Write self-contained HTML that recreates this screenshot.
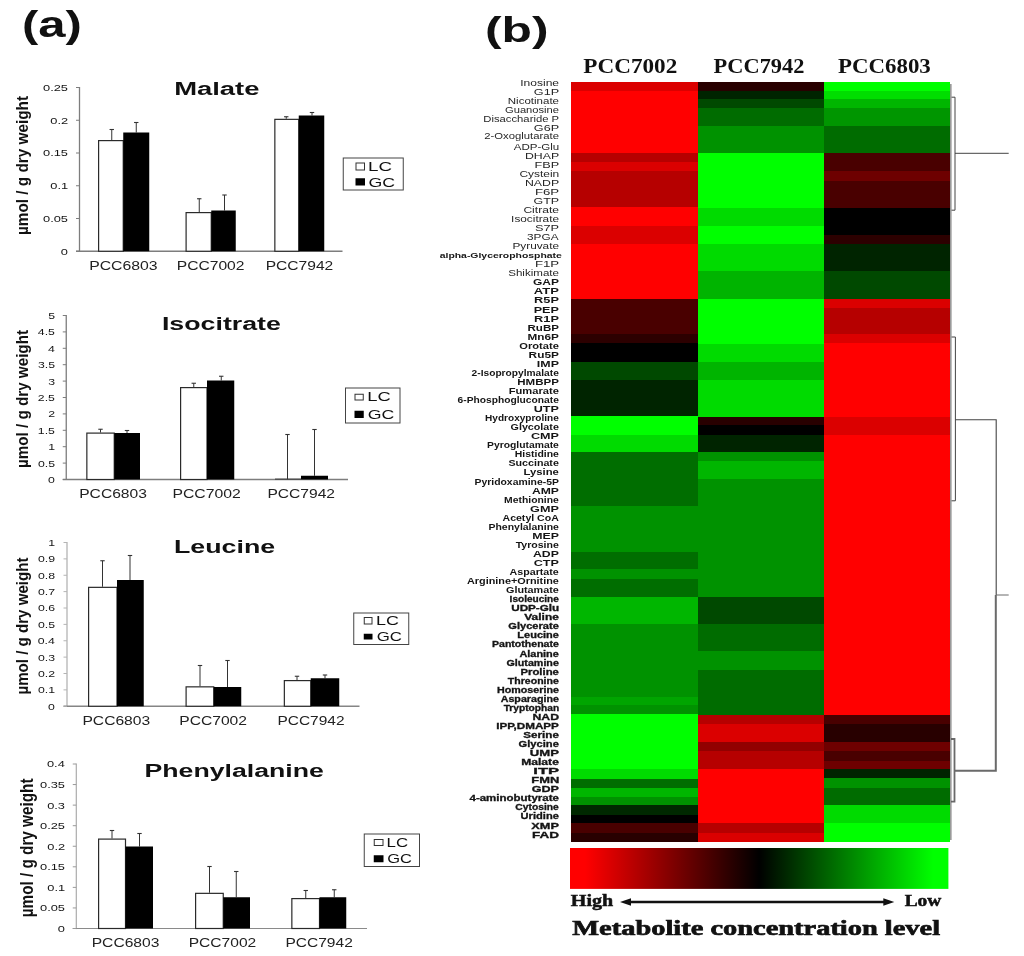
<!DOCTYPE html>
<html lang="en"><head><meta charset="utf-8"><title>Figure</title>
<style>html,body{margin:0;padding:0;background:#fff}svg{display:block;filter:blur(0.35px)}text{white-space:pre}</style></head><body>
<svg width="1024" height="956" viewBox="0 0 1024 956">
<rect x="0" y="0" width="1024" height="956" fill="#fff"/>
<text x="22.05" y="37.30" font-family="'Liberation Sans', Arial, sans-serif" font-size="37" font-weight="bold" fill="#111" textLength="59.88" lengthAdjust="spacingAndGlyphs">(a)</text>
<text x="485.01" y="41.60" font-family="'Liberation Sans', Arial, sans-serif" font-size="35" font-weight="bold" fill="#111" textLength="63.65" lengthAdjust="spacingAndGlyphs">(b)</text>
<line x1="79.50" y1="87.00" x2="79.50" y2="251.85" stroke="#7d7d7d" stroke-width="1.3"/>
<line x1="76.00" y1="251.25" x2="342.50" y2="251.25" stroke="#7d7d7d" stroke-width="1.3"/>
<line x1="76.00" y1="251.25" x2="79.50" y2="251.25" stroke="#7d7d7d" stroke-width="1"/>
<text x="60.85" y="254.65" font-family="'Liberation Sans', Arial, sans-serif" font-size="9.4" font-weight="normal" fill="#151515" textLength="7.15" lengthAdjust="spacingAndGlyphs">0</text>
<line x1="76.00" y1="218.50" x2="79.50" y2="218.50" stroke="#7d7d7d" stroke-width="1"/>
<text x="43.02" y="221.90" font-family="'Liberation Sans', Arial, sans-serif" font-size="9.4" font-weight="normal" fill="#151515" textLength="25.01" lengthAdjust="spacingAndGlyphs">0.05</text>
<line x1="76.00" y1="185.75" x2="79.50" y2="185.75" stroke="#7d7d7d" stroke-width="1"/>
<text x="50.25" y="189.15" font-family="'Liberation Sans', Arial, sans-serif" font-size="9.4" font-weight="normal" fill="#151515" textLength="17.86" lengthAdjust="spacingAndGlyphs">0.1</text>
<line x1="76.00" y1="153.00" x2="79.50" y2="153.00" stroke="#7d7d7d" stroke-width="1"/>
<text x="43.02" y="156.40" font-family="'Liberation Sans', Arial, sans-serif" font-size="9.4" font-weight="normal" fill="#151515" textLength="25.01" lengthAdjust="spacingAndGlyphs">0.15</text>
<line x1="76.00" y1="120.25" x2="79.50" y2="120.25" stroke="#7d7d7d" stroke-width="1"/>
<text x="50.28" y="123.65" font-family="'Liberation Sans', Arial, sans-serif" font-size="9.4" font-weight="normal" fill="#151515" textLength="17.86" lengthAdjust="spacingAndGlyphs">0.2</text>
<line x1="76.00" y1="87.50" x2="79.50" y2="87.50" stroke="#7d7d7d" stroke-width="1"/>
<text x="43.02" y="90.90" font-family="'Liberation Sans', Arial, sans-serif" font-size="9.4" font-weight="normal" fill="#151515" textLength="25.01" lengthAdjust="spacingAndGlyphs">0.25</text>
<text x="174.15" y="95.00" font-family="'Liberation Sans', Arial, sans-serif" font-size="19.2" font-weight="bold" fill="#111" textLength="85.31" lengthAdjust="spacingAndGlyphs">Malate</text>
<text transform="translate(28.00,235.00) rotate(-90)" x="0" y="0" font-family="'Liberation Sans', Arial, sans-serif" font-size="17" font-weight="bold" fill="#111" textLength="139.00" lengthAdjust="spacingAndGlyphs">µmol / g dry weight</text>
<line x1="111.75" y1="140.00" x2="111.75" y2="129.50" stroke="#333" stroke-width="1"/>
<line x1="109.55" y1="129.50" x2="113.95" y2="129.50" stroke="#333" stroke-width="1.1"/>
<line x1="136.25" y1="132.50" x2="136.25" y2="122.50" stroke="#333" stroke-width="1"/>
<line x1="134.05" y1="122.50" x2="138.45" y2="122.50" stroke="#333" stroke-width="1.1"/>
<rect x="98.60" y="140.60" width="24.65" height="110.65" fill="#fff" stroke="#2a2a2a" stroke-width="1.2"/>
<rect x="123.25" y="132.50" width="26.00" height="118.75" fill="#000"/>
<line x1="199.25" y1="212.00" x2="199.25" y2="198.75" stroke="#333" stroke-width="1"/>
<line x1="197.05" y1="198.75" x2="201.45" y2="198.75" stroke="#333" stroke-width="1.1"/>
<line x1="224.50" y1="210.50" x2="224.50" y2="195.00" stroke="#333" stroke-width="1"/>
<line x1="222.30" y1="195.00" x2="226.70" y2="195.00" stroke="#333" stroke-width="1.1"/>
<rect x="186.10" y="212.60" width="25.15" height="38.65" fill="#fff" stroke="#2a2a2a" stroke-width="1.2"/>
<rect x="211.25" y="210.50" width="24.50" height="40.75" fill="#000"/>
<line x1="286.25" y1="118.75" x2="286.25" y2="116.75" stroke="#333" stroke-width="1"/>
<line x1="284.05" y1="116.75" x2="288.45" y2="116.75" stroke="#333" stroke-width="1.1"/>
<line x1="312.00" y1="115.50" x2="312.00" y2="112.50" stroke="#333" stroke-width="1"/>
<line x1="309.80" y1="112.50" x2="314.20" y2="112.50" stroke="#333" stroke-width="1.1"/>
<rect x="274.85" y="119.35" width="23.90" height="131.90" fill="#fff" stroke="#2a2a2a" stroke-width="1.2"/>
<rect x="298.75" y="115.50" width="25.50" height="135.75" fill="#000"/>
<text x="89.20" y="270.00" font-family="'Liberation Sans', Arial, sans-serif" font-size="12.2" font-weight="normal" fill="#222" textLength="68.49" lengthAdjust="spacingAndGlyphs">PCC6803</text>
<text x="176.71" y="270.00" font-family="'Liberation Sans', Arial, sans-serif" font-size="12.2" font-weight="normal" fill="#222" textLength="67.84" lengthAdjust="spacingAndGlyphs">PCC7002</text>
<text x="265.71" y="270.00" font-family="'Liberation Sans', Arial, sans-serif" font-size="12.2" font-weight="normal" fill="#222" textLength="67.58" lengthAdjust="spacingAndGlyphs">PCC7942</text>
<rect x="343.25" y="158.00" width="60.00" height="32.00" fill="#fff" stroke="#444" stroke-width="1"/>
<rect x="356.00" y="163.00" width="8.50" height="7.00" fill="#fff" stroke="#333" stroke-width="1"/>
<rect x="355.50" y="178.25" width="9.50" height="7.25" fill="#000"/>
<text x="367.95" y="170.50" font-family="'Liberation Sans', Arial, sans-serif" font-size="13" font-weight="normal" fill="#111" textLength="24.02" lengthAdjust="spacingAndGlyphs">LC</text>
<text x="368.62" y="186.60" font-family="'Liberation Sans', Arial, sans-serif" font-size="13" font-weight="normal" fill="#111" textLength="26.55" lengthAdjust="spacingAndGlyphs">GC</text>
<line x1="66.25" y1="315.00" x2="66.25" y2="480.10" stroke="#7d7d7d" stroke-width="1.3"/>
<line x1="62.75" y1="479.50" x2="348.00" y2="479.50" stroke="#7d7d7d" stroke-width="1.3"/>
<line x1="62.75" y1="479.50" x2="66.25" y2="479.50" stroke="#7d7d7d" stroke-width="1"/>
<text x="48.13" y="482.90" font-family="'Liberation Sans', Arial, sans-serif" font-size="9.4" font-weight="normal" fill="#151515" textLength="6.84" lengthAdjust="spacingAndGlyphs">0</text>
<line x1="62.75" y1="463.10" x2="66.25" y2="463.10" stroke="#7d7d7d" stroke-width="1"/>
<text x="37.90" y="466.50" font-family="'Liberation Sans', Arial, sans-serif" font-size="9.4" font-weight="normal" fill="#151515" textLength="17.10" lengthAdjust="spacingAndGlyphs">0.5</text>
<line x1="62.75" y1="446.70" x2="66.25" y2="446.70" stroke="#7d7d7d" stroke-width="1"/>
<text x="48.26" y="450.10" font-family="'Liberation Sans', Arial, sans-serif" font-size="9.4" font-weight="normal" fill="#151515" textLength="6.84" lengthAdjust="spacingAndGlyphs">1</text>
<line x1="62.75" y1="430.30" x2="66.25" y2="430.30" stroke="#7d7d7d" stroke-width="1"/>
<text x="37.89" y="433.70" font-family="'Liberation Sans', Arial, sans-serif" font-size="9.4" font-weight="normal" fill="#151515" textLength="17.10" lengthAdjust="spacingAndGlyphs">1.5</text>
<line x1="62.75" y1="413.90" x2="66.25" y2="413.90" stroke="#7d7d7d" stroke-width="1"/>
<text x="48.29" y="417.30" font-family="'Liberation Sans', Arial, sans-serif" font-size="9.4" font-weight="normal" fill="#151515" textLength="6.84" lengthAdjust="spacingAndGlyphs">2</text>
<line x1="62.75" y1="397.50" x2="66.25" y2="397.50" stroke="#7d7d7d" stroke-width="1"/>
<text x="37.89" y="400.90" font-family="'Liberation Sans', Arial, sans-serif" font-size="9.4" font-weight="normal" fill="#151515" textLength="17.10" lengthAdjust="spacingAndGlyphs">2.5</text>
<line x1="62.75" y1="381.10" x2="66.25" y2="381.10" stroke="#7d7d7d" stroke-width="1"/>
<text x="48.20" y="384.50" font-family="'Liberation Sans', Arial, sans-serif" font-size="9.4" font-weight="normal" fill="#151515" textLength="6.84" lengthAdjust="spacingAndGlyphs">3</text>
<line x1="62.75" y1="364.70" x2="66.25" y2="364.70" stroke="#7d7d7d" stroke-width="1"/>
<text x="37.90" y="368.10" font-family="'Liberation Sans', Arial, sans-serif" font-size="9.4" font-weight="normal" fill="#151515" textLength="17.10" lengthAdjust="spacingAndGlyphs">3.5</text>
<line x1="62.75" y1="348.30" x2="66.25" y2="348.30" stroke="#7d7d7d" stroke-width="1"/>
<text x="48.01" y="351.70" font-family="'Liberation Sans', Arial, sans-serif" font-size="9.4" font-weight="normal" fill="#151515" textLength="6.84" lengthAdjust="spacingAndGlyphs">4</text>
<line x1="62.75" y1="331.90" x2="66.25" y2="331.90" stroke="#7d7d7d" stroke-width="1"/>
<text x="37.89" y="335.30" font-family="'Liberation Sans', Arial, sans-serif" font-size="9.4" font-weight="normal" fill="#151515" textLength="17.10" lengthAdjust="spacingAndGlyphs">4.5</text>
<line x1="62.75" y1="315.50" x2="66.25" y2="315.50" stroke="#7d7d7d" stroke-width="1"/>
<text x="48.17" y="318.90" font-family="'Liberation Sans', Arial, sans-serif" font-size="9.4" font-weight="normal" fill="#151515" textLength="6.84" lengthAdjust="spacingAndGlyphs">5</text>
<text x="161.94" y="330.00" font-family="'Liberation Sans', Arial, sans-serif" font-size="19.2" font-weight="bold" fill="#111" textLength="118.96" lengthAdjust="spacingAndGlyphs">Isocitrate</text>
<text transform="translate(28.00,468.00) rotate(-90)" x="0" y="0" font-family="'Liberation Sans', Arial, sans-serif" font-size="17" font-weight="bold" fill="#111" textLength="138.00" lengthAdjust="spacingAndGlyphs">µmol / g dry weight</text>
<line x1="100.50" y1="432.50" x2="100.50" y2="429.25" stroke="#333" stroke-width="1"/>
<line x1="98.30" y1="429.25" x2="102.70" y2="429.25" stroke="#333" stroke-width="1.1"/>
<line x1="127.00" y1="433.00" x2="127.00" y2="430.50" stroke="#333" stroke-width="1"/>
<line x1="124.80" y1="430.50" x2="129.20" y2="430.50" stroke="#333" stroke-width="1.1"/>
<rect x="86.85" y="433.10" width="27.40" height="46.40" fill="#fff" stroke="#2a2a2a" stroke-width="1.2"/>
<rect x="114.25" y="433.00" width="25.75" height="46.50" fill="#000"/>
<line x1="193.75" y1="387.00" x2="193.75" y2="383.25" stroke="#333" stroke-width="1"/>
<line x1="191.55" y1="383.25" x2="195.95" y2="383.25" stroke="#333" stroke-width="1.1"/>
<line x1="221.25" y1="380.50" x2="221.25" y2="376.25" stroke="#333" stroke-width="1"/>
<line x1="219.05" y1="376.25" x2="223.45" y2="376.25" stroke="#333" stroke-width="1.1"/>
<rect x="180.60" y="387.60" width="26.40" height="91.90" fill="#fff" stroke="#2a2a2a" stroke-width="1.2"/>
<rect x="207.00" y="380.50" width="27.25" height="99.00" fill="#000"/>
<line x1="287.50" y1="479.30" x2="287.50" y2="434.50" stroke="#333" stroke-width="1"/>
<line x1="285.30" y1="434.50" x2="289.70" y2="434.50" stroke="#333" stroke-width="1.1"/>
<line x1="314.50" y1="475.75" x2="314.50" y2="429.50" stroke="#333" stroke-width="1"/>
<line x1="312.30" y1="429.50" x2="316.70" y2="429.50" stroke="#333" stroke-width="1.1"/>
<line x1="275.00" y1="479.10" x2="301.00" y2="479.10" stroke="#333" stroke-width="1"/>
<rect x="301.00" y="475.75" width="27.00" height="3.75" fill="#000"/>
<text x="79.21" y="497.70" font-family="'Liberation Sans', Arial, sans-serif" font-size="12.2" font-weight="normal" fill="#222" textLength="67.72" lengthAdjust="spacingAndGlyphs">PCC6803</text>
<text x="172.45" y="497.70" font-family="'Liberation Sans', Arial, sans-serif" font-size="12.2" font-weight="normal" fill="#222" textLength="68.36" lengthAdjust="spacingAndGlyphs">PCC7002</text>
<text x="267.46" y="497.70" font-family="'Liberation Sans', Arial, sans-serif" font-size="12.2" font-weight="normal" fill="#222" textLength="67.58" lengthAdjust="spacingAndGlyphs">PCC7942</text>
<rect x="345.50" y="388.00" width="54.50" height="35.00" fill="#fff" stroke="#444" stroke-width="1"/>
<rect x="355.00" y="394.25" width="8.25" height="5.75" fill="#fff" stroke="#333" stroke-width="1"/>
<rect x="354.50" y="410.75" width="9.25" height="7.25" fill="#000"/>
<text x="367.24" y="401.10" font-family="'Liberation Sans', Arial, sans-serif" font-size="13" font-weight="normal" fill="#111" textLength="23.47" lengthAdjust="spacingAndGlyphs">LC</text>
<text x="367.87" y="419.30" font-family="'Liberation Sans', Arial, sans-serif" font-size="13" font-weight="normal" fill="#111" textLength="26.55" lengthAdjust="spacingAndGlyphs">GC</text>
<line x1="67.00" y1="542.00" x2="67.00" y2="706.85" stroke="#b4b4b4" stroke-width="1.3"/>
<line x1="63.50" y1="706.25" x2="359.50" y2="706.25" stroke="#858585" stroke-width="1.3"/>
<line x1="63.50" y1="706.25" x2="67.00" y2="706.25" stroke="#b4b4b4" stroke-width="1"/>
<text x="48.13" y="709.65" font-family="'Liberation Sans', Arial, sans-serif" font-size="9.4" font-weight="normal" fill="#151515" textLength="6.84" lengthAdjust="spacingAndGlyphs">0</text>
<line x1="63.50" y1="689.88" x2="67.00" y2="689.88" stroke="#b4b4b4" stroke-width="1"/>
<text x="37.99" y="693.27" font-family="'Liberation Sans', Arial, sans-serif" font-size="9.4" font-weight="normal" fill="#151515" textLength="17.10" lengthAdjust="spacingAndGlyphs">0.1</text>
<line x1="63.50" y1="673.50" x2="67.00" y2="673.50" stroke="#b4b4b4" stroke-width="1"/>
<text x="38.02" y="676.90" font-family="'Liberation Sans', Arial, sans-serif" font-size="9.4" font-weight="normal" fill="#151515" textLength="17.10" lengthAdjust="spacingAndGlyphs">0.2</text>
<line x1="63.50" y1="657.12" x2="67.00" y2="657.12" stroke="#b4b4b4" stroke-width="1"/>
<text x="37.93" y="660.52" font-family="'Liberation Sans', Arial, sans-serif" font-size="9.4" font-weight="normal" fill="#151515" textLength="17.10" lengthAdjust="spacingAndGlyphs">0.3</text>
<line x1="63.50" y1="640.75" x2="67.00" y2="640.75" stroke="#b4b4b4" stroke-width="1"/>
<text x="37.74" y="644.15" font-family="'Liberation Sans', Arial, sans-serif" font-size="9.4" font-weight="normal" fill="#151515" textLength="17.10" lengthAdjust="spacingAndGlyphs">0.4</text>
<line x1="63.50" y1="624.38" x2="67.00" y2="624.38" stroke="#b4b4b4" stroke-width="1"/>
<text x="37.90" y="627.77" font-family="'Liberation Sans', Arial, sans-serif" font-size="9.4" font-weight="normal" fill="#151515" textLength="17.10" lengthAdjust="spacingAndGlyphs">0.5</text>
<line x1="63.50" y1="608.00" x2="67.00" y2="608.00" stroke="#b4b4b4" stroke-width="1"/>
<text x="37.93" y="611.40" font-family="'Liberation Sans', Arial, sans-serif" font-size="9.4" font-weight="normal" fill="#151515" textLength="17.10" lengthAdjust="spacingAndGlyphs">0.6</text>
<line x1="63.50" y1="591.62" x2="67.00" y2="591.62" stroke="#b4b4b4" stroke-width="1"/>
<text x="38.02" y="595.02" font-family="'Liberation Sans', Arial, sans-serif" font-size="9.4" font-weight="normal" fill="#151515" textLength="17.10" lengthAdjust="spacingAndGlyphs">0.7</text>
<line x1="63.50" y1="575.25" x2="67.00" y2="575.25" stroke="#b4b4b4" stroke-width="1"/>
<text x="37.93" y="578.65" font-family="'Liberation Sans', Arial, sans-serif" font-size="9.4" font-weight="normal" fill="#151515" textLength="17.10" lengthAdjust="spacingAndGlyphs">0.8</text>
<line x1="63.50" y1="558.88" x2="67.00" y2="558.88" stroke="#b4b4b4" stroke-width="1"/>
<text x="37.96" y="562.27" font-family="'Liberation Sans', Arial, sans-serif" font-size="9.4" font-weight="normal" fill="#151515" textLength="17.10" lengthAdjust="spacingAndGlyphs">0.9</text>
<line x1="63.50" y1="542.50" x2="67.00" y2="542.50" stroke="#b4b4b4" stroke-width="1"/>
<text x="48.26" y="545.90" font-family="'Liberation Sans', Arial, sans-serif" font-size="9.4" font-weight="normal" fill="#151515" textLength="6.84" lengthAdjust="spacingAndGlyphs">1</text>
<text x="173.94" y="552.50" font-family="'Liberation Sans', Arial, sans-serif" font-size="19.2" font-weight="bold" fill="#111" textLength="101.22" lengthAdjust="spacingAndGlyphs">Leucine</text>
<text transform="translate(28.00,694.50) rotate(-90)" x="0" y="0" font-family="'Liberation Sans', Arial, sans-serif" font-size="17" font-weight="bold" fill="#111" textLength="137.00" lengthAdjust="spacingAndGlyphs">µmol / g dry weight</text>
<line x1="102.50" y1="586.75" x2="102.50" y2="560.75" stroke="#333" stroke-width="1"/>
<line x1="100.30" y1="560.75" x2="104.70" y2="560.75" stroke="#333" stroke-width="1.1"/>
<line x1="130.00" y1="580.00" x2="130.00" y2="555.50" stroke="#333" stroke-width="1"/>
<line x1="127.80" y1="555.50" x2="132.20" y2="555.50" stroke="#333" stroke-width="1.1"/>
<rect x="88.60" y="587.35" width="28.40" height="118.90" fill="#fff" stroke="#2a2a2a" stroke-width="1.2"/>
<rect x="117.00" y="580.00" width="26.75" height="126.25" fill="#000"/>
<line x1="200.00" y1="686.25" x2="200.00" y2="665.50" stroke="#333" stroke-width="1"/>
<line x1="197.80" y1="665.50" x2="202.20" y2="665.50" stroke="#333" stroke-width="1.1"/>
<line x1="227.50" y1="687.00" x2="227.50" y2="660.50" stroke="#333" stroke-width="1"/>
<line x1="225.30" y1="660.50" x2="229.70" y2="660.50" stroke="#333" stroke-width="1.1"/>
<rect x="186.10" y="686.85" width="27.65" height="19.40" fill="#fff" stroke="#2a2a2a" stroke-width="1.2"/>
<rect x="213.75" y="687.00" width="27.50" height="19.25" fill="#000"/>
<line x1="297.00" y1="680.00" x2="297.00" y2="676.25" stroke="#333" stroke-width="1"/>
<line x1="294.80" y1="676.25" x2="299.20" y2="676.25" stroke="#333" stroke-width="1.1"/>
<line x1="325.00" y1="678.25" x2="325.00" y2="675.00" stroke="#333" stroke-width="1"/>
<line x1="322.80" y1="675.00" x2="327.20" y2="675.00" stroke="#333" stroke-width="1.1"/>
<rect x="284.35" y="680.60" width="26.40" height="25.65" fill="#fff" stroke="#2a2a2a" stroke-width="1.2"/>
<rect x="310.75" y="678.25" width="28.50" height="28.00" fill="#000"/>
<text x="82.46" y="724.50" font-family="'Liberation Sans', Arial, sans-serif" font-size="12.2" font-weight="normal" fill="#222" textLength="67.72" lengthAdjust="spacingAndGlyphs">PCC6803</text>
<text x="179.21" y="724.50" font-family="'Liberation Sans', Arial, sans-serif" font-size="12.2" font-weight="normal" fill="#222" textLength="67.84" lengthAdjust="spacingAndGlyphs">PCC7002</text>
<text x="277.47" y="724.50" font-family="'Liberation Sans', Arial, sans-serif" font-size="12.2" font-weight="normal" fill="#222" textLength="67.07" lengthAdjust="spacingAndGlyphs">PCC7942</text>
<rect x="353.75" y="613.00" width="55.00" height="31.50" fill="#fff" stroke="#444" stroke-width="1"/>
<rect x="364.25" y="617.50" width="7.75" height="6.50" fill="#fff" stroke="#333" stroke-width="1"/>
<rect x="363.75" y="633.75" width="8.75" height="5.75" fill="#000"/>
<text x="376.02" y="625.00" font-family="'Liberation Sans', Arial, sans-serif" font-size="13" font-weight="normal" fill="#111" textLength="22.92" lengthAdjust="spacingAndGlyphs">LC</text>
<text x="376.66" y="641.10" font-family="'Liberation Sans', Arial, sans-serif" font-size="13" font-weight="normal" fill="#111" textLength="25.22" lengthAdjust="spacingAndGlyphs">GC</text>
<line x1="76.25" y1="763.50" x2="76.25" y2="929.10" stroke="#9a9a9a" stroke-width="1.0"/>
<line x1="72.75" y1="928.50" x2="367.00" y2="928.50" stroke="#8a8a8a" stroke-width="1.0"/>
<line x1="72.75" y1="928.50" x2="76.25" y2="928.50" stroke="#9a9a9a" stroke-width="1"/>
<text x="57.85" y="931.90" font-family="'Liberation Sans', Arial, sans-serif" font-size="9.4" font-weight="normal" fill="#151515" textLength="7.15" lengthAdjust="spacingAndGlyphs">0</text>
<line x1="72.75" y1="907.94" x2="76.25" y2="907.94" stroke="#9a9a9a" stroke-width="1"/>
<text x="40.02" y="911.34" font-family="'Liberation Sans', Arial, sans-serif" font-size="9.4" font-weight="normal" fill="#151515" textLength="25.01" lengthAdjust="spacingAndGlyphs">0.05</text>
<line x1="72.75" y1="887.38" x2="76.25" y2="887.38" stroke="#9a9a9a" stroke-width="1"/>
<text x="47.25" y="890.77" font-family="'Liberation Sans', Arial, sans-serif" font-size="9.4" font-weight="normal" fill="#151515" textLength="17.86" lengthAdjust="spacingAndGlyphs">0.1</text>
<line x1="72.75" y1="866.81" x2="76.25" y2="866.81" stroke="#9a9a9a" stroke-width="1"/>
<text x="40.02" y="870.21" font-family="'Liberation Sans', Arial, sans-serif" font-size="9.4" font-weight="normal" fill="#151515" textLength="25.01" lengthAdjust="spacingAndGlyphs">0.15</text>
<line x1="72.75" y1="846.25" x2="76.25" y2="846.25" stroke="#9a9a9a" stroke-width="1"/>
<text x="47.28" y="849.65" font-family="'Liberation Sans', Arial, sans-serif" font-size="9.4" font-weight="normal" fill="#151515" textLength="17.86" lengthAdjust="spacingAndGlyphs">0.2</text>
<line x1="72.75" y1="825.69" x2="76.25" y2="825.69" stroke="#9a9a9a" stroke-width="1"/>
<text x="40.02" y="829.09" font-family="'Liberation Sans', Arial, sans-serif" font-size="9.4" font-weight="normal" fill="#151515" textLength="25.01" lengthAdjust="spacingAndGlyphs">0.25</text>
<line x1="72.75" y1="805.12" x2="76.25" y2="805.12" stroke="#9a9a9a" stroke-width="1"/>
<text x="47.18" y="808.52" font-family="'Liberation Sans', Arial, sans-serif" font-size="9.4" font-weight="normal" fill="#151515" textLength="17.86" lengthAdjust="spacingAndGlyphs">0.3</text>
<line x1="72.75" y1="784.56" x2="76.25" y2="784.56" stroke="#9a9a9a" stroke-width="1"/>
<text x="40.02" y="787.96" font-family="'Liberation Sans', Arial, sans-serif" font-size="9.4" font-weight="normal" fill="#151515" textLength="25.01" lengthAdjust="spacingAndGlyphs">0.35</text>
<line x1="72.75" y1="764.00" x2="76.25" y2="764.00" stroke="#9a9a9a" stroke-width="1"/>
<text x="46.99" y="767.40" font-family="'Liberation Sans', Arial, sans-serif" font-size="9.4" font-weight="normal" fill="#151515" textLength="17.86" lengthAdjust="spacingAndGlyphs">0.4</text>
<text x="144.45" y="777.25" font-family="'Liberation Sans', Arial, sans-serif" font-size="19.2" font-weight="bold" fill="#111" textLength="179.48" lengthAdjust="spacingAndGlyphs">Phenylalanine</text>
<text transform="translate(32.50,917.25) rotate(-90)" x="0" y="0" font-family="'Liberation Sans', Arial, sans-serif" font-size="18.5" font-weight="bold" fill="#111" textLength="138.75" lengthAdjust="spacingAndGlyphs">µmol / g dry weight</text>
<line x1="112.00" y1="838.50" x2="112.00" y2="830.50" stroke="#333" stroke-width="1"/>
<line x1="109.80" y1="830.50" x2="114.20" y2="830.50" stroke="#333" stroke-width="1.1"/>
<line x1="139.50" y1="846.50" x2="139.50" y2="833.50" stroke="#333" stroke-width="1"/>
<line x1="137.30" y1="833.50" x2="141.70" y2="833.50" stroke="#333" stroke-width="1.1"/>
<rect x="98.60" y="839.10" width="26.90" height="89.40" fill="#fff" stroke="#2a2a2a" stroke-width="1.2"/>
<rect x="125.50" y="846.50" width="27.50" height="82.00" fill="#000"/>
<line x1="209.50" y1="892.75" x2="209.50" y2="866.50" stroke="#333" stroke-width="1"/>
<line x1="207.30" y1="866.50" x2="211.70" y2="866.50" stroke="#333" stroke-width="1.1"/>
<line x1="236.25" y1="897.25" x2="236.25" y2="871.50" stroke="#333" stroke-width="1"/>
<line x1="234.05" y1="871.50" x2="238.45" y2="871.50" stroke="#333" stroke-width="1.1"/>
<rect x="195.60" y="893.35" width="27.65" height="35.15" fill="#fff" stroke="#2a2a2a" stroke-width="1.2"/>
<rect x="223.25" y="897.25" width="26.75" height="31.25" fill="#000"/>
<line x1="305.75" y1="898.00" x2="305.75" y2="890.50" stroke="#333" stroke-width="1"/>
<line x1="303.55" y1="890.50" x2="307.95" y2="890.50" stroke="#333" stroke-width="1.1"/>
<line x1="334.25" y1="897.25" x2="334.25" y2="889.75" stroke="#333" stroke-width="1"/>
<line x1="332.05" y1="889.75" x2="336.45" y2="889.75" stroke="#333" stroke-width="1.1"/>
<rect x="291.85" y="898.60" width="27.65" height="29.90" fill="#fff" stroke="#2a2a2a" stroke-width="1.2"/>
<rect x="319.50" y="897.25" width="26.75" height="31.25" fill="#000"/>
<text x="91.71" y="947.25" font-family="'Liberation Sans', Arial, sans-serif" font-size="12.2" font-weight="normal" fill="#222" textLength="67.72" lengthAdjust="spacingAndGlyphs">PCC6803</text>
<text x="188.71" y="947.25" font-family="'Liberation Sans', Arial, sans-serif" font-size="12.2" font-weight="normal" fill="#222" textLength="67.58" lengthAdjust="spacingAndGlyphs">PCC7002</text>
<text x="285.47" y="947.25" font-family="'Liberation Sans', Arial, sans-serif" font-size="12.2" font-weight="normal" fill="#222" textLength="67.32" lengthAdjust="spacingAndGlyphs">PCC7942</text>
<rect x="364.25" y="834.00" width="55.25" height="32.50" fill="#fff" stroke="#444" stroke-width="1"/>
<rect x="374.25" y="839.50" width="8.75" height="6.00" fill="#fff" stroke="#333" stroke-width="1"/>
<rect x="373.75" y="855.25" width="9.75" height="7.00" fill="#000"/>
<text x="386.61" y="846.70" font-family="'Liberation Sans', Arial, sans-serif" font-size="13" font-weight="normal" fill="#111" textLength="21.54" lengthAdjust="spacingAndGlyphs">LC</text>
<text x="387.18" y="863.30" font-family="'Liberation Sans', Arial, sans-serif" font-size="13" font-weight="normal" fill="#111" textLength="24.69" lengthAdjust="spacingAndGlyphs">GC</text>
<g shape-rendering="crispEdges">
<rect x="571.00" y="81.60" width="127.40" height="9.40" fill="#db0000"/>
<rect x="571.00" y="90.50" width="127.40" height="62.85" fill="#ff0000"/>
<rect x="571.00" y="152.85" width="127.40" height="9.75" fill="#b60000"/>
<rect x="571.00" y="162.10" width="127.40" height="9.80" fill="#db0000"/>
<rect x="571.00" y="171.40" width="127.40" height="36.50" fill="#b60000"/>
<rect x="571.00" y="207.40" width="127.40" height="19.50" fill="#ff0000"/>
<rect x="571.00" y="226.40" width="127.40" height="18.40" fill="#db0000"/>
<rect x="571.00" y="244.30" width="127.40" height="54.85" fill="#ff0000"/>
<rect x="571.00" y="298.65" width="127.40" height="36.15" fill="#490000"/>
<rect x="571.00" y="334.30" width="127.40" height="9.60" fill="#2c0000"/>
<rect x="571.00" y="343.40" width="127.40" height="19.30" fill="#000000"/>
<rect x="571.00" y="362.20" width="127.40" height="18.00" fill="#004900"/>
<rect x="571.00" y="379.70" width="127.40" height="37.10" fill="#002400"/>
<rect x="571.00" y="416.30" width="127.40" height="18.90" fill="#00ff00"/>
<rect x="571.00" y="434.70" width="127.40" height="17.90" fill="#00db00"/>
<rect x="571.00" y="452.10" width="127.40" height="54.85" fill="#006e00"/>
<rect x="571.00" y="506.45" width="127.40" height="46.15" fill="#009200"/>
<rect x="571.00" y="552.10" width="127.40" height="17.80" fill="#006e00"/>
<rect x="571.00" y="569.40" width="127.40" height="10.20" fill="#009200"/>
<rect x="571.00" y="579.10" width="127.40" height="18.10" fill="#006e00"/>
<rect x="571.00" y="596.70" width="127.40" height="27.65" fill="#00b600"/>
<rect x="571.00" y="623.85" width="127.40" height="73.15" fill="#009200"/>
<rect x="571.00" y="696.50" width="127.40" height="9.00" fill="#00a500"/>
<rect x="571.00" y="705.00" width="127.40" height="9.90" fill="#009200"/>
<rect x="571.00" y="714.40" width="127.40" height="55.30" fill="#00ff00"/>
<rect x="571.00" y="769.20" width="127.40" height="10.10" fill="#00db00"/>
<rect x="571.00" y="778.80" width="127.40" height="9.50" fill="#006e00"/>
<rect x="571.00" y="787.80" width="127.40" height="9.70" fill="#00b600"/>
<rect x="571.00" y="797.00" width="127.40" height="8.80" fill="#009200"/>
<rect x="571.00" y="805.30" width="127.40" height="10.05" fill="#002800"/>
<rect x="571.00" y="814.85" width="127.40" height="9.05" fill="#000000"/>
<rect x="571.00" y="823.40" width="127.40" height="9.80" fill="#490000"/>
<rect x="571.00" y="832.70" width="127.40" height="9.30" fill="#280000"/>
<rect x="697.90" y="81.60" width="126.70" height="9.40" fill="#280000"/>
<rect x="697.90" y="90.50" width="126.70" height="9.10" fill="#002400"/>
<rect x="697.90" y="99.10" width="126.70" height="9.30" fill="#004900"/>
<rect x="697.90" y="107.90" width="126.70" height="18.80" fill="#006c00"/>
<rect x="697.90" y="126.20" width="126.70" height="27.15" fill="#009200"/>
<rect x="697.90" y="152.85" width="126.70" height="55.55" fill="#00ff00"/>
<rect x="697.90" y="207.90" width="126.70" height="18.90" fill="#00db00"/>
<rect x="697.90" y="226.30" width="126.70" height="18.50" fill="#00ff00"/>
<rect x="697.90" y="244.30" width="126.70" height="27.60" fill="#00db00"/>
<rect x="697.90" y="271.40" width="126.70" height="27.75" fill="#00b400"/>
<rect x="697.90" y="298.65" width="126.70" height="45.55" fill="#00ff00"/>
<rect x="697.90" y="343.70" width="126.70" height="19.00" fill="#00db00"/>
<rect x="697.90" y="362.20" width="126.70" height="18.00" fill="#00b400"/>
<rect x="697.90" y="379.70" width="126.70" height="37.40" fill="#00db00"/>
<rect x="697.90" y="416.60" width="126.70" height="9.20" fill="#280000"/>
<rect x="697.90" y="425.30" width="126.70" height="9.90" fill="#000000"/>
<rect x="697.90" y="434.70" width="126.70" height="17.90" fill="#002400"/>
<rect x="697.90" y="452.10" width="126.70" height="9.10" fill="#009200"/>
<rect x="697.90" y="460.70" width="126.70" height="19.20" fill="#00b600"/>
<rect x="697.90" y="479.40" width="126.70" height="118.10" fill="#009200"/>
<rect x="697.90" y="597.00" width="126.70" height="27.35" fill="#004900"/>
<rect x="697.90" y="623.85" width="126.70" height="27.65" fill="#006c00"/>
<rect x="697.90" y="651.00" width="126.70" height="19.60" fill="#009200"/>
<rect x="697.90" y="670.10" width="126.70" height="45.00" fill="#006c00"/>
<rect x="697.90" y="714.60" width="126.70" height="10.20" fill="#b60000"/>
<rect x="697.90" y="724.30" width="126.70" height="18.30" fill="#db0000"/>
<rect x="697.90" y="742.10" width="126.70" height="9.20" fill="#920000"/>
<rect x="697.90" y="750.80" width="126.70" height="18.90" fill="#b60000"/>
<rect x="697.90" y="769.20" width="126.70" height="54.70" fill="#ff0000"/>
<rect x="697.90" y="823.40" width="126.70" height="9.80" fill="#b60000"/>
<rect x="697.90" y="832.70" width="126.70" height="9.30" fill="#db0000"/>
<rect x="824.10" y="81.60" width="125.90" height="9.40" fill="#00ff00"/>
<rect x="824.10" y="90.50" width="125.90" height="9.10" fill="#00de00"/>
<rect x="824.10" y="99.10" width="125.90" height="9.30" fill="#00b600"/>
<rect x="824.10" y="107.90" width="125.90" height="18.80" fill="#009600"/>
<rect x="824.10" y="126.20" width="125.90" height="27.15" fill="#006c00"/>
<rect x="824.10" y="152.85" width="125.90" height="19.05" fill="#490000"/>
<rect x="824.10" y="171.40" width="125.90" height="9.70" fill="#6e0000"/>
<rect x="824.10" y="180.60" width="125.90" height="27.80" fill="#490000"/>
<rect x="824.10" y="207.90" width="125.90" height="27.60" fill="#000000"/>
<rect x="824.10" y="235.00" width="125.90" height="9.40" fill="#2c0000"/>
<rect x="824.10" y="243.90" width="125.90" height="28.00" fill="#002400"/>
<rect x="824.10" y="271.40" width="125.90" height="27.75" fill="#004900"/>
<rect x="824.10" y="298.65" width="125.90" height="9.75" fill="#db0000"/>
<rect x="824.10" y="307.90" width="125.90" height="26.50" fill="#b60000"/>
<rect x="824.10" y="333.90" width="125.90" height="10.00" fill="#db0000"/>
<rect x="824.10" y="343.40" width="125.90" height="73.70" fill="#ff0000"/>
<rect x="824.10" y="416.60" width="125.90" height="18.60" fill="#db0000"/>
<rect x="824.10" y="434.70" width="125.90" height="280.40" fill="#ff0000"/>
<rect x="824.10" y="714.60" width="125.90" height="10.20" fill="#490000"/>
<rect x="824.10" y="724.30" width="125.90" height="18.30" fill="#280000"/>
<rect x="824.10" y="742.10" width="125.90" height="9.60" fill="#6e0000"/>
<rect x="824.10" y="751.20" width="125.90" height="10.40" fill="#490000"/>
<rect x="824.10" y="761.10" width="125.90" height="8.60" fill="#6e0000"/>
<rect x="824.10" y="769.20" width="125.90" height="9.70" fill="#002400"/>
<rect x="824.10" y="778.40" width="125.90" height="10.40" fill="#009200"/>
<rect x="824.10" y="788.30" width="125.90" height="17.50" fill="#006c00"/>
<rect x="824.10" y="805.30" width="125.90" height="18.60" fill="#00db00"/>
<rect x="824.10" y="823.40" width="125.90" height="18.60" fill="#00ff00"/>
</g>
<text x="583.34" y="73.40" font-family="'Liberation Serif', 'Times New Roman', serif" font-size="22" font-weight="bold" fill="#111" textLength="93.89" lengthAdjust="spacingAndGlyphs">PCC7002</text>
<text x="713.61" y="73.40" font-family="'Liberation Serif', 'Times New Roman', serif" font-size="22" font-weight="bold" fill="#111" textLength="90.85" lengthAdjust="spacingAndGlyphs">PCC7942</text>
<text x="838.00" y="73.40" font-family="'Liberation Serif', 'Times New Roman', serif" font-size="22" font-weight="bold" fill="#111" textLength="92.81" lengthAdjust="spacingAndGlyphs">PCC6803</text>
<text x="520.19" y="86.20" font-family="'Liberation Sans', Arial, sans-serif" font-size="8.8" font-weight="normal" fill="#262626" textLength="38.85" lengthAdjust="spacingAndGlyphs">Inosine</text>
<text x="533.87" y="95.25" font-family="'Liberation Sans', Arial, sans-serif" font-size="8.8" font-weight="normal" fill="#262626" textLength="25.28" lengthAdjust="spacingAndGlyphs">G1P</text>
<text x="507.80" y="104.31" font-family="'Liberation Sans', Arial, sans-serif" font-size="8.8" font-weight="normal" fill="#262626" textLength="51.21" lengthAdjust="spacingAndGlyphs">Nicotinate</text>
<text x="505.04" y="113.36" font-family="'Liberation Sans', Arial, sans-serif" font-size="8.8" font-weight="normal" fill="#262626" textLength="53.95" lengthAdjust="spacingAndGlyphs">Guanosine</text>
<text x="483.27" y="122.41" font-family="'Liberation Sans', Arial, sans-serif" font-size="8.8" font-weight="normal" fill="#262626" textLength="75.83" lengthAdjust="spacingAndGlyphs">Disaccharide P</text>
<text x="533.87" y="131.46" font-family="'Liberation Sans', Arial, sans-serif" font-size="8.8" font-weight="normal" fill="#262626" textLength="25.28" lengthAdjust="spacingAndGlyphs">G6P</text>
<text x="484.24" y="138.60" font-family="'Liberation Sans', Arial, sans-serif" font-size="8.8" font-weight="normal" fill="#262626" textLength="74.74" lengthAdjust="spacingAndGlyphs">2-Oxoglutarate</text>
<text x="513.72" y="149.57" font-family="'Liberation Sans', Arial, sans-serif" font-size="8.8" font-weight="normal" fill="#262626" textLength="45.53" lengthAdjust="spacingAndGlyphs">ADP-Glu</text>
<text x="524.99" y="158.62" font-family="'Liberation Sans', Arial, sans-serif" font-size="8.8" font-weight="normal" fill="#262626" textLength="34.14" lengthAdjust="spacingAndGlyphs">DHAP</text>
<text x="534.56" y="167.68" font-family="'Liberation Sans', Arial, sans-serif" font-size="8.8" font-weight="normal" fill="#262626" textLength="24.61" lengthAdjust="spacingAndGlyphs">FBP</text>
<text x="519.40" y="176.73" font-family="'Liberation Sans', Arial, sans-serif" font-size="8.8" font-weight="normal" fill="#262626" textLength="39.87" lengthAdjust="spacingAndGlyphs">Cystein</text>
<text x="524.99" y="185.78" font-family="'Liberation Sans', Arial, sans-serif" font-size="8.8" font-weight="normal" fill="#262626" textLength="34.14" lengthAdjust="spacingAndGlyphs">NADP</text>
<text x="534.91" y="194.84" font-family="'Liberation Sans', Arial, sans-serif" font-size="8.8" font-weight="normal" fill="#262626" textLength="24.27" lengthAdjust="spacingAndGlyphs">F6P</text>
<text x="533.58" y="203.89" font-family="'Liberation Sans', Arial, sans-serif" font-size="8.8" font-weight="normal" fill="#262626" textLength="25.58" lengthAdjust="spacingAndGlyphs">GTP</text>
<text x="523.40" y="212.94" font-family="'Liberation Sans', Arial, sans-serif" font-size="8.8" font-weight="normal" fill="#262626" textLength="35.62" lengthAdjust="spacingAndGlyphs">Citrate</text>
<text x="511.11" y="222.00" font-family="'Liberation Sans', Arial, sans-serif" font-size="8.8" font-weight="normal" fill="#262626" textLength="47.92" lengthAdjust="spacingAndGlyphs">Isocitrate</text>
<text x="535.03" y="231.05" font-family="'Liberation Sans', Arial, sans-serif" font-size="8.8" font-weight="normal" fill="#262626" textLength="24.15" lengthAdjust="spacingAndGlyphs">S7P</text>
<text x="527.06" y="240.10" font-family="'Liberation Sans', Arial, sans-serif" font-size="8.8" font-weight="normal" fill="#262626" textLength="31.48" lengthAdjust="spacingAndGlyphs">3PGA</text>
<text x="512.43" y="249.15" font-family="'Liberation Sans', Arial, sans-serif" font-size="8.8" font-weight="normal" fill="#262626" textLength="46.59" lengthAdjust="spacingAndGlyphs">Pyruvate</text>
<text x="439.69" y="258.21" font-family="'Liberation Sans', Arial, sans-serif" font-size="8.0" font-weight="bold" fill="#151515" textLength="122.15" lengthAdjust="spacingAndGlyphs">alpha-Glycerophosphate</text>
<text x="534.91" y="267.26" font-family="'Liberation Sans', Arial, sans-serif" font-size="8.8" font-weight="normal" fill="#262626" textLength="24.27" lengthAdjust="spacingAndGlyphs">F1P</text>
<text x="508.23" y="276.31" font-family="'Liberation Sans', Arial, sans-serif" font-size="8.8" font-weight="normal" fill="#262626" textLength="50.77" lengthAdjust="spacingAndGlyphs">Shikimate</text>
<text x="532.92" y="285.37" font-family="'Liberation Sans', Arial, sans-serif" font-size="8.8" font-weight="bold" fill="#151515" textLength="25.99" lengthAdjust="spacingAndGlyphs">GAP</text>
<text x="533.87" y="294.42" font-family="'Liberation Sans', Arial, sans-serif" font-size="8.8" font-weight="bold" fill="#151515" textLength="25.06" lengthAdjust="spacingAndGlyphs">ATP</text>
<text x="534.14" y="303.47" font-family="'Liberation Sans', Arial, sans-serif" font-size="8.8" font-weight="bold" fill="#151515" textLength="24.81" lengthAdjust="spacingAndGlyphs">R5P</text>
<text x="533.65" y="312.53" font-family="'Liberation Sans', Arial, sans-serif" font-size="8.8" font-weight="bold" fill="#151515" textLength="25.28" lengthAdjust="spacingAndGlyphs">PEP</text>
<text x="534.14" y="321.58" font-family="'Liberation Sans', Arial, sans-serif" font-size="8.8" font-weight="bold" fill="#151515" textLength="24.81" lengthAdjust="spacingAndGlyphs">R1P</text>
<text x="527.52" y="330.63" font-family="'Liberation Sans', Arial, sans-serif" font-size="8.8" font-weight="bold" fill="#151515" textLength="31.38" lengthAdjust="spacingAndGlyphs">RuBP</text>
<text x="527.51" y="339.68" font-family="'Liberation Sans', Arial, sans-serif" font-size="8.8" font-weight="bold" fill="#151515" textLength="31.40" lengthAdjust="spacingAndGlyphs">Mn6P</text>
<text x="519.25" y="348.74" font-family="'Liberation Sans', Arial, sans-serif" font-size="8.8" font-weight="bold" fill="#151515" textLength="39.62" lengthAdjust="spacingAndGlyphs">Orotate</text>
<text x="528.60" y="357.79" font-family="'Liberation Sans', Arial, sans-serif" font-size="8.8" font-weight="bold" fill="#151515" textLength="30.30" lengthAdjust="spacingAndGlyphs">Ru5P</text>
<text x="536.86" y="366.84" font-family="'Liberation Sans', Arial, sans-serif" font-size="8.8" font-weight="bold" fill="#151515" textLength="22.08" lengthAdjust="spacingAndGlyphs">IMP</text>
<text x="471.64" y="375.90" font-family="'Liberation Sans', Arial, sans-serif" font-size="8.8" font-weight="bold" fill="#151515" textLength="87.20" lengthAdjust="spacingAndGlyphs">2-Isopropylmalate</text>
<text x="517.22" y="384.95" font-family="'Liberation Sans', Arial, sans-serif" font-size="8.8" font-weight="bold" fill="#151515" textLength="41.67" lengthAdjust="spacingAndGlyphs">HMBPP</text>
<text x="508.75" y="394.00" font-family="'Liberation Sans', Arial, sans-serif" font-size="8.8" font-weight="bold" fill="#151515" textLength="50.13" lengthAdjust="spacingAndGlyphs">Fumarate</text>
<text x="457.62" y="403.06" font-family="'Liberation Sans', Arial, sans-serif" font-size="8.8" font-weight="bold" fill="#151515" textLength="101.24" lengthAdjust="spacingAndGlyphs">6-Phosphogluconate</text>
<text x="533.74" y="412.11" font-family="'Liberation Sans', Arial, sans-serif" font-size="8.8" font-weight="bold" fill="#151515" textLength="25.20" lengthAdjust="spacingAndGlyphs">UTP</text>
<text x="485.12" y="421.16" font-family="'Liberation Sans', Arial, sans-serif" font-size="8.8" font-weight="bold" fill="#151515" textLength="73.71" lengthAdjust="spacingAndGlyphs">Hydroxyproline</text>
<text x="510.57" y="430.21" font-family="'Liberation Sans', Arial, sans-serif" font-size="8.8" font-weight="bold" fill="#151515" textLength="48.30" lengthAdjust="spacingAndGlyphs">Glycolate</text>
<text x="530.90" y="439.27" font-family="'Liberation Sans', Arial, sans-serif" font-size="8.8" font-weight="bold" fill="#151515" textLength="28.04" lengthAdjust="spacingAndGlyphs">CMP</text>
<text x="487.00" y="448.32" font-family="'Liberation Sans', Arial, sans-serif" font-size="8.8" font-weight="bold" fill="#151515" textLength="71.85" lengthAdjust="spacingAndGlyphs">Pyroglutamate</text>
<text x="514.80" y="457.37" font-family="'Liberation Sans', Arial, sans-serif" font-size="8.8" font-weight="bold" fill="#151515" textLength="44.05" lengthAdjust="spacingAndGlyphs">Histidine</text>
<text x="508.43" y="466.43" font-family="'Liberation Sans', Arial, sans-serif" font-size="8.8" font-weight="bold" fill="#151515" textLength="50.44" lengthAdjust="spacingAndGlyphs">Succinate</text>
<text x="523.64" y="475.48" font-family="'Liberation Sans', Arial, sans-serif" font-size="8.8" font-weight="bold" fill="#151515" textLength="35.24" lengthAdjust="spacingAndGlyphs">Lysine</text>
<text x="474.50" y="484.53" font-family="'Liberation Sans', Arial, sans-serif" font-size="8.8" font-weight="bold" fill="#151515" textLength="84.36" lengthAdjust="spacingAndGlyphs">Pyridoxamine-5P</text>
<text x="531.90" y="493.59" font-family="'Liberation Sans', Arial, sans-serif" font-size="8.8" font-weight="bold" fill="#151515" textLength="27.03" lengthAdjust="spacingAndGlyphs">AMP</text>
<text x="504.10" y="502.64" font-family="'Liberation Sans', Arial, sans-serif" font-size="8.8" font-weight="bold" fill="#151515" textLength="54.74" lengthAdjust="spacingAndGlyphs">Methionine</text>
<text x="530.09" y="511.69" font-family="'Liberation Sans', Arial, sans-serif" font-size="8.8" font-weight="bold" fill="#151515" textLength="28.85" lengthAdjust="spacingAndGlyphs">GMP</text>
<text x="502.54" y="520.74" font-family="'Liberation Sans', Arial, sans-serif" font-size="8.8" font-weight="bold" fill="#151515" textLength="56.25" lengthAdjust="spacingAndGlyphs">Acetyl CoA</text>
<text x="488.49" y="529.80" font-family="'Liberation Sans', Arial, sans-serif" font-size="8.8" font-weight="bold" fill="#151515" textLength="70.37" lengthAdjust="spacingAndGlyphs">Phenylalanine</text>
<text x="532.17" y="538.85" font-family="'Liberation Sans', Arial, sans-serif" font-size="8.8" font-weight="bold" fill="#151515" textLength="26.76" lengthAdjust="spacingAndGlyphs">MEP</text>
<text x="515.69" y="547.90" font-family="'Liberation Sans', Arial, sans-serif" font-size="8.8" font-weight="bold" fill="#151515" textLength="43.16" lengthAdjust="spacingAndGlyphs">Tyrosine</text>
<text x="532.99" y="556.96" font-family="'Liberation Sans', Arial, sans-serif" font-size="8.8" font-weight="bold" fill="#151515" textLength="25.92" lengthAdjust="spacingAndGlyphs">ADP</text>
<text x="533.70" y="566.01" font-family="'Liberation Sans', Arial, sans-serif" font-size="8.8" font-weight="bold" fill="#151515" textLength="25.25" lengthAdjust="spacingAndGlyphs">CTP</text>
<text x="509.53" y="575.06" font-family="'Liberation Sans', Arial, sans-serif" font-size="8.8" font-weight="bold" fill="#151515" textLength="49.32" lengthAdjust="spacingAndGlyphs">Aspartate</text>
<text x="467.03" y="584.12" font-family="'Liberation Sans', Arial, sans-serif" font-size="8.8" font-weight="bold" fill="#151515" textLength="91.83" lengthAdjust="spacingAndGlyphs">Arginine+Ornitine</text>
<text x="505.97" y="593.17" font-family="'Liberation Sans', Arial, sans-serif" font-size="8.8" font-weight="bold" fill="#151515" textLength="52.89" lengthAdjust="spacingAndGlyphs">Glutamate</text>
<text x="509.62" y="602.22" font-family="'Liberation Sans', Arial, sans-serif" font-size="8.8" font-weight="bold" fill="#151515" textLength="49.21" lengthAdjust="spacingAndGlyphs" stroke="#111" stroke-width="0.3">Isoleucine</text>
<text x="511.20" y="611.27" font-family="'Liberation Sans', Arial, sans-serif" font-size="8.8" font-weight="bold" fill="#151515" textLength="48.07" lengthAdjust="spacingAndGlyphs" stroke="#111" stroke-width="0.3">UDP-Glu</text>
<text x="524.31" y="620.33" font-family="'Liberation Sans', Arial, sans-serif" font-size="8.8" font-weight="bold" fill="#151515" textLength="34.59" lengthAdjust="spacingAndGlyphs" stroke="#111" stroke-width="0.3">Valine</text>
<text x="508.31" y="629.38" font-family="'Liberation Sans', Arial, sans-serif" font-size="8.8" font-weight="bold" fill="#151515" textLength="50.57" lengthAdjust="spacingAndGlyphs" stroke="#111" stroke-width="0.3">Glycerate</text>
<text x="517.36" y="638.43" font-family="'Liberation Sans', Arial, sans-serif" font-size="8.8" font-weight="bold" fill="#151515" textLength="41.51" lengthAdjust="spacingAndGlyphs" stroke="#111" stroke-width="0.3">Leucine</text>
<text x="491.99" y="647.49" font-family="'Liberation Sans', Arial, sans-serif" font-size="8.8" font-weight="bold" fill="#151515" textLength="66.87" lengthAdjust="spacingAndGlyphs" stroke="#111" stroke-width="0.3">Pantothenate</text>
<text x="519.43" y="656.54" font-family="'Liberation Sans', Arial, sans-serif" font-size="8.8" font-weight="bold" fill="#151515" textLength="39.45" lengthAdjust="spacingAndGlyphs" stroke="#111" stroke-width="0.3">Alanine</text>
<text x="506.47" y="665.59" font-family="'Liberation Sans', Arial, sans-serif" font-size="8.8" font-weight="bold" fill="#151515" textLength="52.40" lengthAdjust="spacingAndGlyphs" stroke="#111" stroke-width="0.3">Glutamine</text>
<text x="520.49" y="674.65" font-family="'Liberation Sans', Arial, sans-serif" font-size="8.8" font-weight="bold" fill="#151515" textLength="38.41" lengthAdjust="spacingAndGlyphs" stroke="#111" stroke-width="0.3">Proline</text>
<text x="507.89" y="683.70" font-family="'Liberation Sans', Arial, sans-serif" font-size="8.8" font-weight="bold" fill="#151515" textLength="50.96" lengthAdjust="spacingAndGlyphs" stroke="#111" stroke-width="0.3">Threonine</text>
<text x="497.08" y="692.75" font-family="'Liberation Sans', Arial, sans-serif" font-size="8.8" font-weight="bold" fill="#151515" textLength="61.79" lengthAdjust="spacingAndGlyphs" stroke="#111" stroke-width="0.3">Homoserine</text>
<text x="500.73" y="701.80" font-family="'Liberation Sans', Arial, sans-serif" font-size="8.8" font-weight="bold" fill="#151515" textLength="58.13" lengthAdjust="spacingAndGlyphs" stroke="#111" stroke-width="0.3">Asparagine</text>
<text x="503.65" y="710.86" font-family="'Liberation Sans', Arial, sans-serif" font-size="8.8" font-weight="bold" fill="#151515" textLength="55.48" lengthAdjust="spacingAndGlyphs" stroke="#111" stroke-width="0.3">Tryptophan</text>
<text x="532.47" y="719.91" font-family="'Liberation Sans', Arial, sans-serif" font-size="8.8" font-weight="bold" fill="#151515" textLength="26.54" lengthAdjust="spacingAndGlyphs" stroke="#111" stroke-width="0.3">NAD</text>
<text x="496.21" y="728.96" font-family="'Liberation Sans', Arial, sans-serif" font-size="8.8" font-weight="bold" fill="#151515" textLength="62.69" lengthAdjust="spacingAndGlyphs" stroke="#111" stroke-width="0.3">IPP,DMAPP</text>
<text x="523.25" y="738.02" font-family="'Liberation Sans', Arial, sans-serif" font-size="8.8" font-weight="bold" fill="#151515" textLength="35.65" lengthAdjust="spacingAndGlyphs" stroke="#111" stroke-width="0.3">Serine</text>
<text x="518.55" y="747.07" font-family="'Liberation Sans', Arial, sans-serif" font-size="8.8" font-weight="bold" fill="#151515" textLength="40.31" lengthAdjust="spacingAndGlyphs" stroke="#111" stroke-width="0.3">Glycine</text>
<text x="529.81" y="756.12" font-family="'Liberation Sans', Arial, sans-serif" font-size="8.8" font-weight="bold" fill="#151515" textLength="29.14" lengthAdjust="spacingAndGlyphs" stroke="#111" stroke-width="0.3">UMP</text>
<text x="521.18" y="765.18" font-family="'Liberation Sans', Arial, sans-serif" font-size="8.8" font-weight="bold" fill="#151515" textLength="37.74" lengthAdjust="spacingAndGlyphs" stroke="#111" stroke-width="0.3">Malate</text>
<text x="533.38" y="774.23" font-family="'Liberation Sans', Arial, sans-serif" font-size="8.8" font-weight="bold" fill="#151515" textLength="25.71" lengthAdjust="spacingAndGlyphs" stroke="#111" stroke-width="0.3">ITP</text>
<text x="531.33" y="783.28" font-family="'Liberation Sans', Arial, sans-serif" font-size="8.8" font-weight="bold" fill="#151515" textLength="28.03" lengthAdjust="spacingAndGlyphs" stroke="#111" stroke-width="0.3">FMN</text>
<text x="531.70" y="792.33" font-family="'Liberation Sans', Arial, sans-serif" font-size="8.8" font-weight="bold" fill="#151515" textLength="27.24" lengthAdjust="spacingAndGlyphs" stroke="#111" stroke-width="0.3">GDP</text>
<text x="469.53" y="801.39" font-family="'Liberation Sans', Arial, sans-serif" font-size="8.8" font-weight="bold" fill="#151515" textLength="89.37" lengthAdjust="spacingAndGlyphs" stroke="#111" stroke-width="0.3">4-aminobutyrate</text>
<text x="515.39" y="810.44" font-family="'Liberation Sans', Arial, sans-serif" font-size="8.8" font-weight="bold" fill="#151515" textLength="43.45" lengthAdjust="spacingAndGlyphs" stroke="#111" stroke-width="0.3">Cytosine</text>
<text x="520.58" y="819.49" font-family="'Liberation Sans', Arial, sans-serif" font-size="8.8" font-weight="bold" fill="#151515" textLength="38.28" lengthAdjust="spacingAndGlyphs" stroke="#111" stroke-width="0.3">Uridine</text>
<text x="531.27" y="828.55" font-family="'Liberation Sans', Arial, sans-serif" font-size="8.8" font-weight="bold" fill="#151515" textLength="27.67" lengthAdjust="spacingAndGlyphs" stroke="#111" stroke-width="0.3">XMP</text>
<text x="532.09" y="837.60" font-family="'Liberation Sans', Arial, sans-serif" font-size="8.8" font-weight="bold" fill="#151515" textLength="26.99" lengthAdjust="spacingAndGlyphs" stroke="#111" stroke-width="0.3">FAD</text>
<g fill="none">
<polyline points="951.5,97.2 955,97.2 955,210.2 951.5,210.2" stroke="#444" stroke-width="1"/>
<line x1="955.00" y1="153.30" x2="1008.70" y2="153.30" stroke="#444" stroke-width="1"/>
<polyline points="951.5,337 955.4,337 955.4,500.8 951.5,500.8" stroke="#444" stroke-width="1"/>
<polyline points="955.4,419.8 996.2,419.8 996.2,595" stroke="#444" stroke-width="1.1"/>
<line x1="996.20" y1="595.00" x2="1008.70" y2="595.00" stroke="#6a6a6a" stroke-width="1"/>
<polyline points="995.8,595 995.8,770.7 955,770.7" stroke="#6a6a6a" stroke-width="2"/>
<polyline points="951,739 954.5,739 954.5,801.7 951,801.7" stroke="#6a6a6a" stroke-width="1.8"/>
<line x1="950.90" y1="84.00" x2="950.90" y2="840.00" stroke="#5a5a5a" stroke-width="1"/>
</g>
<defs><linearGradient id="grad" x1="0" x2="1" y1="0" y2="0"><stop offset="0" stop-color="#ff0000"/><stop offset="0.04" stop-color="#ff0000"/><stop offset="0.5" stop-color="#000000"/><stop offset="0.96" stop-color="#00ff00"/><stop offset="1" stop-color="#00ff00"/></linearGradient></defs>
<rect x="570.00" y="848.00" width="378.40" height="40.90" fill="url(#grad)"/>
<text x="570.85" y="906.00" font-family="'Liberation Serif', 'Times New Roman', serif" font-size="16" font-weight="bold" fill="#111" textLength="42.24" lengthAdjust="spacingAndGlyphs" stroke="#111" stroke-width="0.5">High</text>
<text x="904.66" y="906.00" font-family="'Liberation Serif', 'Times New Roman', serif" font-size="16" font-weight="bold" fill="#111" textLength="36.62" lengthAdjust="spacingAndGlyphs" stroke="#111" stroke-width="0.5">Low</text>
<line x1="628.00" y1="902.00" x2="886.00" y2="902.00" stroke="#111" stroke-width="2.3"/>
<polygon points="620,902 631,898.2 631,905.8" fill="#111"/>
<polygon points="894.3,902 883.3,898.2 883.3,905.8" fill="#111"/>
<text x="572.30" y="935.30" font-family="'Liberation Serif', 'Times New Roman', serif" font-size="22" font-weight="bold" fill="#111" textLength="367.82" lengthAdjust="spacingAndGlyphs" stroke="#111" stroke-width="0.7">Metabolite concentration level</text>
</svg></body></html>
